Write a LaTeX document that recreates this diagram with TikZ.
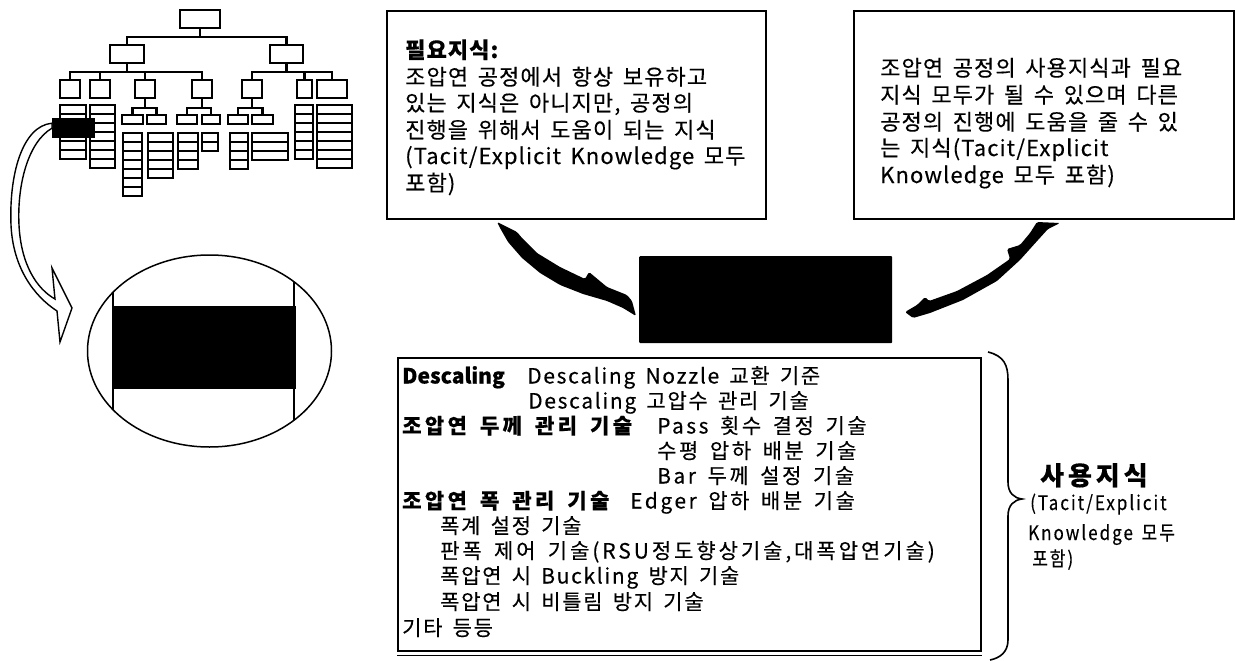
\documentclass[tikz,border=0pt]{standalone}
\usepackage{fontspec}
\setmainfont{Noto Sans CJK KR}[LetterSpace=5, WordSpace=1.6, FakeBold=0.3]
\newfontfamily\narrowfont{Noto Sans CJK KR}[FakeStretch=0.85, LetterSpace=10, WordSpace=1.5, FakeBold=0.3]
\begin{document}
\begin{tikzpicture}[x=1pt,y=-1pt,
  box/.style={draw, line width=1.8pt, anchor=north west, inner sep=0pt},
  tbox/.style={draw, line width=2.1pt, inner sep=0pt, fill=white},
  tline/.style={line width=2.1pt},
  txtA/.style={inner sep=0pt, anchor=base west, font=\fontsize{22}{26}\selectfont},
  txtB/.style={inner sep=0pt, anchor=base west, font=\addfontfeatures{LetterSpace=8}\fontsize{21}{25}\selectfont},
  txtW/.style={inner sep=0pt, anchor=base west, font=\addfontfeatures{LetterSpace=12}\fontsize{21}{25}\selectfont},
  txtH/.style={inner sep=0pt, anchor=base west, font=\addfontfeatures{LetterSpace=16}\fontsize{21}{25}\selectfont\bfseries},
  txtN/.style={inner sep=0pt, anchor=base west, font=\narrowfont\fontsize{20}{24}\selectfont},
  leafrow/.style={draw, line width=1.8pt, fill=white}]
\useasboundingbox (0,0) rectangle (1235,661);

% ---------------- tree ----------------
\node[tbox, minimum width=40pt, minimum height=18pt] (r) at (200,19) {};
\node[tbox, minimum width=34pt, minimum height=18pt] (a) at (127,54) {};
\node[tbox, minimum width=33pt, minimum height=18pt] (b) at (286.5,54) {};
\node[tbox, minimum width=20pt, minimum height=18pt] (a1) at (70,89) {};
\node[tbox, minimum width=20pt, minimum height=18pt] (a2) at (100,89) {};
\node[tbox, minimum width=20pt, minimum height=18pt] (a3) at (145,89) {};
\node[tbox, minimum width=20pt, minimum height=18pt] (a4) at (202,89) {};
\node[tbox, minimum width=20pt, minimum height=18pt] (b1) at (252,89) {};
\node[tbox, minimum width=15pt, minimum height=18pt] (b2) at (304.5,89) {};
\node[tbox, minimum width=30pt, minimum height=18pt] (b3) at (332,89) {};
\draw[tline] (r.south) -- ++(0,8) -| (a.north);
\draw[tline] (r.south) ++(0,8) -| (b.north);
\foreach \n in {a1,a2,a3,a4} \draw[tline] (a.south) -- ++(0,8) -| (\n.north);
\foreach \n in {b1,b2,b3} \draw[tline] (b.south) -- ++(0,8) -| (\n.north);
% sub boxes
\node[tbox, minimum width=21pt, minimum height=9pt] (a3l) at (132.5,119.5) {};
\node[tbox, minimum width=19pt, minimum height=9pt] (a3r) at (156.5,119.5) {};
\node[tbox, minimum width=20pt, minimum height=9pt] (a4l) at (187,119.5) {};
\node[tbox, minimum width=18pt, minimum height=9pt] (a4r) at (211,119.5) {};
\node[tbox, minimum width=20pt, minimum height=9pt] (b1l) at (238,119.5) {};
\node[tbox, minimum width=21pt, minimum height=9pt] (b1r) at (262.5,119.5) {};
\foreach \p/\c in {a3/a3l,a3/a3r,a4/a4l,a4/a4r,b1/b1l,b1/b1r}
  \draw[tline] (\p.south) -- ++(0,9) -| (\c.north);
% leaf columns: x1, x2, top, rows
\foreach \xa/\xb/\yt/\nr in {60/86/105/6, 90/115/105/7, 123/142/133/7, 148/173/133/5,
   178/198/133/4, 202/218/133/2, 230/248/133/4, 252/288/133/3, 295/313/105/6, 317/352/105/7}{
  \foreach \i in {1,...,\nr}{
    \draw[leafrow] (\xa,{\yt+(\i-1)*9}) rectangle (\xb,{\yt+\i*9});
  }
}
% highlight
\node[fill=black, anchor=north west, minimum width=43pt, minimum height=20pt, inner sep=0pt] (hl) at (52,118) {};

% hollow curved arrow
\draw[line width=1.4pt, fill=white] (hl.west) ++(0,-5)
  .. controls (22,126) and (9,175) .. (11,225)
  .. controls (13,268) and (34,296) .. (57,311)
  -- (60,342) -- (72,308) -- (52,268) -- (55,299)
  .. controls (37,289) and (21,265) .. (19,225)
  .. controls (17,185) and (28,142) .. (hl.west) -- cycle;

% ellipse zoom
\begin{scope}
  \clip (209.5,351) ellipse [x radius=122, y radius=96];
  \draw[line width=1.5pt] (113,240) -- (113,460);
  \draw[line width=1.5pt] (294,240) -- (294,460);
  \fill (113,306) rectangle (296,389);
\end{scope}
\draw[line width=1.5pt] (209.5,351) ellipse [x radius=122, y radius=96];

% ---------------- boxes ----------------
\node[box, minimum width=379pt, minimum height=208pt] (k1) at (386,10) {};
\node[box, minimum width=380pt, minimum height=208pt] (k2) at (853,10) {};
\node[fill=black, rounded corners=1pt, anchor=north west, minimum width=253pt, minimum height=87pt, inner sep=0pt] (cb) at (639,256) {};
\node[box, minimum width=583pt, minimum height=293pt] (k3) at (397,357) {};
\draw[line width=1.5pt] ([yshift=-3.5pt]k3.south west) -- ([yshift=-3.5pt]k3.south east);

% box 1 text
\node[txtA] (t11) at (405,58) {\bfseries 필요지식:};
\node[txtA] (t12) at (405,85) {조압연 공정에서 항상 보유하고};
\node[txtA] (t13) at (405,111) {있는 지식은 아니지만, 공정의};
\node[txtA] (t14) at (405,138) {진행을 위해서 도움이 되는 지식};
\node[txtA] (t15) at (405,164) {(Tacit/Explicit Knowledge 모두};
\node[txtA] (t16) at (405,191) {포함)};

% box 2 text
\node[txtA] (t21) at (880,76) {조압연 공정의 사용지식과 필요};
\node[txtA] (t22) at (880,103) {지식 모두가 될 수 있으며 다른};
\node[txtA] (t23) at (880,130) {공정의 진행에 도움을 줄 수 있};
\node[txtA] (t24) at (880,156) {는 지식(Tacit/Explicit};
\node[txtA] (t25) at (880,183) {Knowledge 모두 포함)};

% bottom box text
\node[txtB, font=\addfontfeatures{LetterSpace=0}\fontsize{21}{25}\selectfont\bfseries] (u1) at (402,383.5) {Descaling};
\node[txtB] (u2) at (527,383.5) {Descaling Nozzle 교환 기준};
\node[txtB] (u3) at (528,408.5) {Descaling 고압수 관리 기술};
\node[txtH] (u4) at (402,433.5) {조압연 두께 관리 기술};
\node[txtW] (u5) at (657,433.5) {Pass 횟수 결정 기술};
\node[txtW] (u6) at (657,458.5) {수평 압하 배분 기술};
\node[txtW] (u7) at (657,483.5) {Bar 두께 설정 기술};
\node[txtH] (u8) at (402,508.5) {조압연 폭 관리 기술};
\node[txtW] (u9) at (630,508.5) {Edger 압하 배분 기술};
\node[txtB] (u10) at (440,533.5) {폭계 설정 기술};
\node[txtB, font=\addfontfeatures{LetterSpace=14}\fontsize{21}{25}\selectfont] (u11) at (440,558.5) {판폭 제어 기술(RSU정도향상기술,대폭압연기술)};
\node[txtB] (u12) at (440,583.5) {폭압연 시 Buckling 방지 기술};
\node[txtB] (u13) at (440,609.5) {폭압연 시 비틀림 방지 기술};
\node[txtB] (u14) at (402,635.5) {기타 등등};

% brace
\draw[line width=1.6pt] (988,352) .. controls (1004,356) and (1008,365) .. (1008,380)
  -- (1008,482) .. controls (1008,493) and (1014,498) .. (1022,499)
  .. controls (1014,500) and (1008,505) .. (1008,516)
  -- (1008,640) .. controls (1008,652) and (1000,658) .. (990,660);

% right label
\node[inner sep=0pt, anchor=base west, font=\addfontfeatures{LetterSpace=15}\fontsize{26}{30}\selectfont\bfseries] (s1) at (1040,485) {사용지식};
\node[txtN] (s2) at (1030,510) {(Tacit/Explicit};
\node[txtN] (s3) at (1028,540) {Knowledge 모두};
\node[txtN] (s4) at (1032,566) {포함)};

% swoosh arrows (from box 1 and box 2 to the black box)
\fill[rounded corners=1.5pt] (497,222) -- (517,232) -- (522,238) -- (537,253) -- (560,267) -- (585,279)
  -- (589,272) -- (607,287) -- (627,295) -- (632,301) -- (636,316)
  -- (623,308) -- (607,301) -- (583,294) -- (560,285) -- (540,273) -- (522,258) -- (508,242) -- (500,228) -- cycle;
\fill[rounded corners=1.5pt] (1037,222) -- (1060,223) -- (1048,229) -- (1038,240) -- (1020,260) -- (997,281)
  -- (963,300) -- (930,313) -- (913,318) -- (905,312) -- (917,305) -- (925,297) -- (929,301)
  -- (957,291) -- (987,275) -- (1010,259) -- (1007,249) -- (1020,245) -- (1030,233) -- cycle;
\end{tikzpicture}
\end{document}
